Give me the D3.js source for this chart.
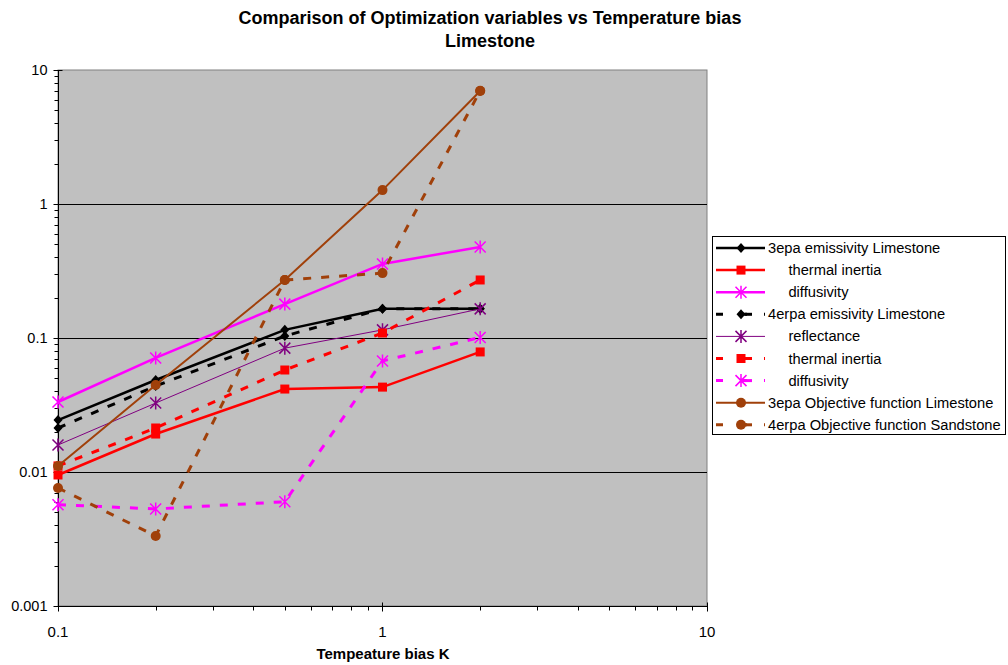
<!DOCTYPE html>
<html>
<head>
<meta charset="utf-8">
<script src="https://cdn.jsdelivr.net/npm/d3@7"></script>
<style>
  body { margin: 0; background: white; font-family: "Liberation Sans", Arial, sans-serif; }
</style>
</head>
<body>
<div id="chart"></div>
<script>
// chart data
const xValues = [0.1, 0.2, 0.5, 1, 2];
const emis3 = [0.0244, 0.0486, 0.115, 0.165, 0.165];
const thermal3 = [0.0095, 0.0192, 0.0416, 0.043, 0.0787];
const diff3 = [0.0333, 0.071, 0.179, 0.357, 0.478];
const emis4 = [0.0213, 0.0438, 0.1035, 0.165, 0.165];
const refl4 = [0.0159, 0.0327, 0.084, 0.115, 0.165];
const thermal4 = [0.0111, 0.0213, 0.0577, 0.109, 0.271];
const diff4 = [0.0057, 0.0053, 0.0060, 0.0674, 0.101];
const obj3 = [0.0111, 0.0446, 0.271, 1.27, 6.97];
const obj4 = [0.0076, 0.00333, 0.271, 0.305, 7.0];

const xTicks = [0.1, 1, 10];
const yTicks = [0.001, 0.01, 0.1, 1, 10];

const series = [
    { name: "3epa emissivity Limestone", values: emis3, color: "#000000", width: 2.5, dash: null, marker: "diamond" },
    { name: "     thermal inertia", values: thermal3, color: "#FF0000", width: 2.5, dash: null, marker: "square" },
    { name: "     diffusivity", values: diff3, color: "#FF00FF", width: 2.5, dash: null, marker: "asterisk" },
    { name: "4erpa emissivity Limestone", values: emis4, color: "#000000", width: 3, dash: "8,10", marker: "diamond" },
    { name: "     reflectance", values: refl4, color: "#800080", width: 1, dash: null, marker: "asterisk" },
    { name: "     thermal inertia", values: thermal4, color: "#FF0000", width: 3, dash: "8,10", marker: "square" },
    { name: "     diffusivity", values: diff4, color: "#FF00FF", width: 3, dash: "8,10", marker: "asterisk" },
    { name: "3epa Objective function Limestone", values: obj3, color: "#A0400A", width: 2, dash: null, marker: "circle" },
    { name: "4erpa Objective function Sandstone", values: obj4, color: "#A0400A", width: 3, dash: "8,10", marker: "circle" }
];

const W = 1008, H = 665;
const plot = { left: 58, right: 707, top: 70, bottom: 606 };

const svg = d3.select("#chart").append("svg")
    .attr("width", W).attr("height", H)
    .style("font-family", "'Liberation Sans', Arial, sans-serif");

const x = d3.scaleLog().domain([0.1, 10]).range([plot.left, plot.right]);
const y = d3.scaleLog().domain([0.001, 10]).range([plot.bottom, plot.top]);

// plot background
svg.append("rect")
    .attr("x", plot.left).attr("y", plot.top)
    .attr("width", plot.right - plot.left).attr("height", plot.bottom - plot.top)
    .attr("fill", "#C0C0C0").attr("stroke", "#808080").attr("stroke-width", 1);

// gridlines at decades
svg.append("g").selectAll("line")
    .data(yTicks.filter(d => d > 0.001 && d < 10))
    .enter().append("line")
    .attr("x1", plot.left).attr("x2", plot.right)
    .attr("y1", d => Math.round(y(d)) + 0.5).attr("y2", d => Math.round(y(d)) + 0.5)
    .attr("stroke", "#000").attr("stroke-width", 1);

// minor ticks
const minorY = [];
[0.001, 0.01, 0.1, 1].forEach(b => { for (let k = 2; k <= 9; k++) minorY.push(b * k); });
const minorX = [];
[0.1, 1].forEach(b => { for (let k = 2; k <= 9; k++) minorX.push(b * k); });

const yAxis = svg.append("g").attr("transform", `translate(${plot.left + 0.5},0)`);
yAxis.append("line").attr("y1", plot.top).attr("y2", plot.bottom).attr("stroke", "#000");
yAxis.selectAll(".minor").data(minorY).enter().append("line")
    .attr("x1", -4).attr("x2", 0)
    .attr("y1", d => Math.round(y(d)) + 0.5).attr("y2", d => Math.round(y(d)) + 0.5)
    .attr("stroke", "#000");
yAxis.selectAll(".major").data(yTicks).enter().append("line")
    .attr("x1", -5).attr("x2", 4)
    .attr("y1", d => Math.round(y(d)) + 0.5).attr("y2", d => Math.round(y(d)) + 0.5)
    .attr("stroke", "#000");
yAxis.selectAll("text").data(yTicks).enter().append("text")
    .attr("x", -11).attr("y", d => y(d) + 5)
    .attr("text-anchor", "end").style("font-size", "14.5px")
    .text(d => d3.format("~g")(d));

const xAxis = svg.append("g").attr("transform", `translate(0,${plot.bottom + 0.5})`);
xAxis.append("line").attr("x1", plot.left).attr("x2", plot.right).attr("stroke", "#000");
xAxis.selectAll(".minor").data(minorX).enter().append("line")
    .attr("x1", d => Math.round(x(d)) + 0.5).attr("x2", d => Math.round(x(d)) + 0.5)
    .attr("y1", 0).attr("y2", 4).attr("stroke", "#000");
xAxis.selectAll(".major").data(xTicks).enter().append("line")
    .attr("x1", d => Math.round(x(d)) + 0.5).attr("x2", d => Math.round(x(d)) + 0.5)
    .attr("y1", -4).attr("y2", 5).attr("stroke", "#000");
xAxis.selectAll("text").data(xTicks).enter().append("text")
    .attr("x", d => x(d)).attr("y", 30)
    .attr("text-anchor", "middle").style("font-size", "15px")
    .text(d => d3.format("~g")(d));

// marker drawing
function drawMarker(g, type, color, cx, cy) {
    if (type === "diamond") {
        g.append("path").attr("d", `M${cx},${cy - 5}L${cx + 4.5},${cy}L${cx},${cy + 5}L${cx - 4.5},${cy}Z`)
            .attr("fill", color);
    } else if (type === "square") {
        g.append("rect").attr("x", cx - 4.5).attr("y", cy - 4.5).attr("width", 9).attr("height", 9)
            .attr("fill", color);
    } else if (type === "circle") {
        g.append("circle").attr("cx", cx).attr("cy", cy).attr("r", 5).attr("fill", color);
    } else if (type === "asterisk") {
        const r = 5.5;
        g.append("path")
            .attr("d", `M${cx - r},${cy - r}L${cx + r},${cy + r}M${cx - r},${cy + r}L${cx + r},${cy - r}M${cx},${cy - r - 1}L${cx},${cy + r + 1}`)
            .attr("stroke", color).attr("stroke-width", 1.5).attr("fill", "none");
    }
}

const line = d3.line().x((d, i) => x(xValues[i])).y(d => y(d));

const seriesG = svg.append("g");
series.forEach(s => {
    const g = seriesG.append("g");
    g.append("path").datum(s.values)
        .attr("d", line)
        .attr("fill", "none")
        .attr("stroke", s.color)
        .attr("stroke-width", s.width)
        .attr("stroke-dasharray", s.dash);
    s.values.forEach((v, i) => drawMarker(g, s.marker, s.color, x(xValues[i]), y(v)));
});

// legend
const legend = svg.append("g");
legend.append("rect")
    .attr("x", 712.5).attr("y", 236.5).attr("width", 293).attr("height", 198)
    .attr("fill", "#fff").attr("stroke", "#000");
series.forEach((s, i) => {
    const ly = 248 + i * 22.1;
    const g = legend.append("g");
    g.append("line").attr("x1", 716).attr("x2", 765).attr("y1", ly).attr("y2", ly)
        .attr("stroke", s.color).attr("stroke-width", s.width)
        .attr("stroke-dasharray", s.dash ? "7,17" : null);
    if (s.dash) {
        g.append("line").attr("x1", 745).attr("x2", 752).attr("y1", ly).attr("y2", ly)
            .attr("stroke", s.color).attr("stroke-width", s.width);
    }
    drawMarker(g, s.marker, s.color, 741, ly);
    g.append("text").attr("x", 768).attr("y", ly + 5)
        .style("font-size", "14.7px").style("white-space", "pre")
        .attr("xml:space", "preserve")
        .text(s.name);
});

// titles
svg.append("text").attr("x", 490).attr("y", 24).attr("text-anchor", "middle")
    .style("font-size", "18px").style("font-weight", "bold")
    .text("Comparison of Optimization variables vs Temperature bias");
svg.append("text").attr("x", 490).attr("y", 47).attr("text-anchor", "middle")
    .style("font-size", "18px").style("font-weight", "bold")
    .text("Limestone");
svg.append("text").attr("x", 383).attr("y", 659).attr("text-anchor", "middle")
    .style("font-size", "15px").style("font-weight", "bold")
    .text("Tempeature bias K");
</script>
</body>
</html>
